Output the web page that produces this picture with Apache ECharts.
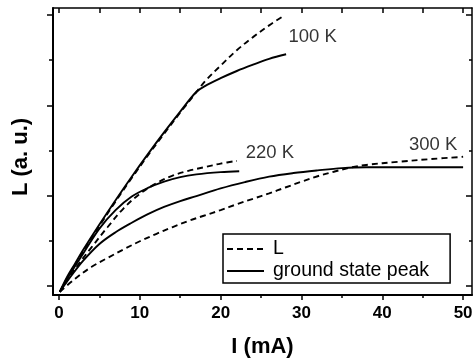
<!DOCTYPE html>
<html>
<head>
<meta charset="utf-8">
<script src="https://cdn.jsdelivr.net/npm/echarts@6/dist/echarts.min.js"></script>
<style>html,body{margin:0;padding:0;background:#fff;}#c{width:474px;height:360px;}</style>
</head>
<body>
<div id="c"></div>
<script>
// Current (mA) and light output (a.u.) for each temperature
const x100L = [0.1, 1, 2, 3, 5, 7, 9, 11, 13, 15, 17, 18, 20, 22, 24, 26, 27.8];
const y100L = [-0.13, 0.17, 0.47, 0.77, 1.33, 1.87, 2.39, 2.89, 3.37, 3.84, 4.29, 4.52, 4.88, 5.22, 5.51, 5.77, 5.98];
const x100G = [0.1, 1, 2, 3, 5, 7, 9, 11, 13, 15, 17, 18, 20, 22, 24, 26, 28.1];
const y100G = [-0.13, 0.20, 0.50, 0.80, 1.36, 1.90, 2.42, 2.92, 3.40, 3.86, 4.30, 4.42, 4.60, 4.76, 4.90, 5.03, 5.13];

const x220L = [0.1, 2, 4, 6, 8, 10, 12, 14, 16, 18, 20, 22];
const y220L = [-0.13, 0.38, 0.85, 1.30, 1.72, 2.04, 2.27, 2.44, 2.55, 2.63, 2.71, 2.77];
const x220G = [0.1, 1.5, 3, 5, 7, 9, 11, 13, 15, 17, 20, 22.3];
const y220G = [-0.13, 0.30, 0.72, 1.27, 1.68, 1.98, 2.17, 2.31, 2.41, 2.47, 2.52, 2.54];

const x300L = [0.1, 2, 4, 6, 8, 10, 12, 14, 16, 18, 20, 22, 24, 26, 28, 30, 32, 34, 36, 38, 42, 46, 50];
const y300L = [-0.13, 0.16, 0.42, 0.62, 0.81, 0.99, 1.15, 1.30, 1.44, 1.56, 1.68, 1.81, 1.93, 2.05, 2.18, 2.31, 2.43, 2.53, 2.62, 2.68, 2.75, 2.81, 2.86];
const x300G = [0.1, 1.5, 3, 5, 7, 9, 11, 13, 15, 17, 20, 23, 26, 29, 32, 35, 38, 44, 50];
const y300G = [-0.13, 0.22, 0.56, 0.93, 1.19, 1.40, 1.59, 1.75, 1.88, 1.99, 2.16, 2.30, 2.42, 2.50, 2.56, 2.61, 2.63, 2.63, 2.63];

const xTicks = [0, 10, 20, 30, 40, 50];
const xMinorTicks = [5, 15, 25, 35, 45];
const xTopTicks = [0, 5, 10, 15, 20, 25, 30, 35, 40, 45, 50];
const yMajorTicks = [0, 2, 4, 6];
const yMinorTicks = [1, 3, 5];

const tempLabels = ['100 K', '220 K', '300 K'];
const tempLabelX = [28.4, 23.1, 43.3];
const tempLabelY = [5.51, 2.94, 3.12];

const legendNames = ['L', 'ground state peak'];
const xTitle = 'I (mA)';
const yTitle = 'L (a. u.)';

const zip = (a, b) => a.map((v, i) => [v, b[i]]);

const XMIN = -0.74, XMAX = 51.1, YMIN = -0.2, YMAX = 6.155;

function lineSeries(name, data, dashed) {
  return {
    type: 'line', name: name, data: data, xAxisIndex: 0, yAxisIndex: 0,
    symbol: 'none', smooth: 0.35,
    lineStyle: { color: '#000', width: 1.9, type: dashed ? [6, 4] : 'solid' },
    itemStyle: { color: '#000' },
    silent: true
  };
}

const chart = echarts.init(document.getElementById('c'), null, { renderer: 'canvas' });
const FONT = '"Liberation Sans", Arial, sans-serif';

const xBase = { type: 'value', min: XMIN, max: XMAX, splitLine: { show: false } };
const yBase = { type: 'value', min: YMIN, max: YMAX, splitLine: { show: false } };

chart.setOption({
  animation: false,
  backgroundColor: '#fff',
  grid: { left: 53, right: 2, top: 8, bottom: 65, containLabel: false, outerBoundsMode: 'none' },
  xAxis: [
    Object.assign({}, xBase, {
      position: 'bottom',
      name: xTitle, nameLocation: 'middle', nameGap: 41,
      nameTextStyle: { fontFamily: FONT, fontSize: 22, fontWeight: 'bold', color: '#000' },
      axisLine: { show: true, onZero: false, lineStyle: { color: '#000', width: 2 } },
      axisTick: { show: true, inside: false, length: 5, customValues: xTicks, lineStyle: { color: '#000', width: 1.5 } },
      axisLabel: { show: true, customValues: xTicks, margin: 10, fontFamily: FONT, fontSize: 17, fontWeight: 'bold', color: '#000' }
    }),
    Object.assign({}, xBase, {
      position: 'bottom',
      axisLine: { show: false, onZero: false },
      axisTick: { show: true, inside: false, length: 3, customValues: xMinorTicks, lineStyle: { color: '#000', width: 1.5 } },
      axisLabel: { show: false }
    }),
    Object.assign({}, xBase, {
      position: 'top',
      axisLine: { show: true, onZero: false, lineStyle: { color: '#000', width: 1.5 } },
      axisTick: { show: true, inside: true, length: 5, customValues: xTopTicks, lineStyle: { color: '#000', width: 1.5 } },
      axisLabel: { show: false }
    })
  ],
  yAxis: [
    Object.assign({}, yBase, {
      position: 'left',
      axisLine: { show: true, onZero: false, lineStyle: { color: '#000', width: 2 } },
      axisTick: { show: true, inside: false, length: 6, customValues: yMajorTicks, lineStyle: { color: '#000', width: 1.5 } },
      axisLabel: { show: false }
    }),
    Object.assign({}, yBase, {
      position: 'left',
      axisLine: { show: false, onZero: false },
      axisTick: { show: true, inside: false, length: 4, customValues: yMinorTicks, lineStyle: { color: '#000', width: 1.5 } },
      axisLabel: { show: false }
    }),
    Object.assign({}, yBase, {
      position: 'right',
      axisLine: { show: true, onZero: false, lineStyle: { color: '#000', width: 1.5 } },
      axisTick: { show: true, inside: true, length: 6, customValues: yMajorTicks, lineStyle: { color: '#000', width: 1.5 } },
      axisLabel: { show: false }
    }),
    Object.assign({}, yBase, {
      position: 'right',
      axisLine: { show: false, onZero: false },
      axisTick: { show: true, inside: true, length: 3, customValues: yMinorTicks, lineStyle: { color: '#000', width: 1.5 } },
      axisLabel: { show: false }
    })
  ],
  graphic: [{
    type: 'text', x: 21, y: 157, rotation: Math.PI / 2,
    style: { text: yTitle, fontFamily: FONT, fontSize: 22, fontWeight: 'bold', fill: '#000', align: 'center', verticalAlign: 'middle' }
  }],
  legend: {
    data: legendNames,
    orient: 'vertical',
    left: 223, top: 234,
    padding: [5, 21, 2, 3],
    itemGap: 2,
    itemWidth: 37, itemHeight: 14,
    itemStyle: { opacity: 0 },
    borderColor: '#000', borderWidth: 1.5, borderRadius: 0,
    backgroundColor: '#fff',
    selectedMode: false,
    textStyle: { fontFamily: FONT, fontSize: 19.5, lineHeight: 20, color: '#000', padding: [0, 0, 0, 4] }
  },
  series: [
    lineSeries('L', zip(x100L, y100L), true),
    lineSeries('ground state peak', zip(x100G, y100G), false),
    lineSeries('L', zip(x220L, y220L), true),
    lineSeries('ground state peak', zip(x220G, y220G), false),
    lineSeries('L', zip(x300L, y300L), true),
    lineSeries('ground state peak', zip(x300G, y300G), false),
    {
      type: 'scatter', name: 'labels', xAxisIndex: 0, yAxisIndex: 0,
      symbolSize: 0, silent: true,
      data: tempLabels.map((t, i) => ({ name: t, value: [tempLabelX[i], tempLabelY[i]] })),
      label: { show: true, position: 'right', distance: 0, formatter: p => p.name, fontFamily: FONT, fontSize: 18.5, color: '#000' }
    }
  ]
});
</script>
</body>
</html>
